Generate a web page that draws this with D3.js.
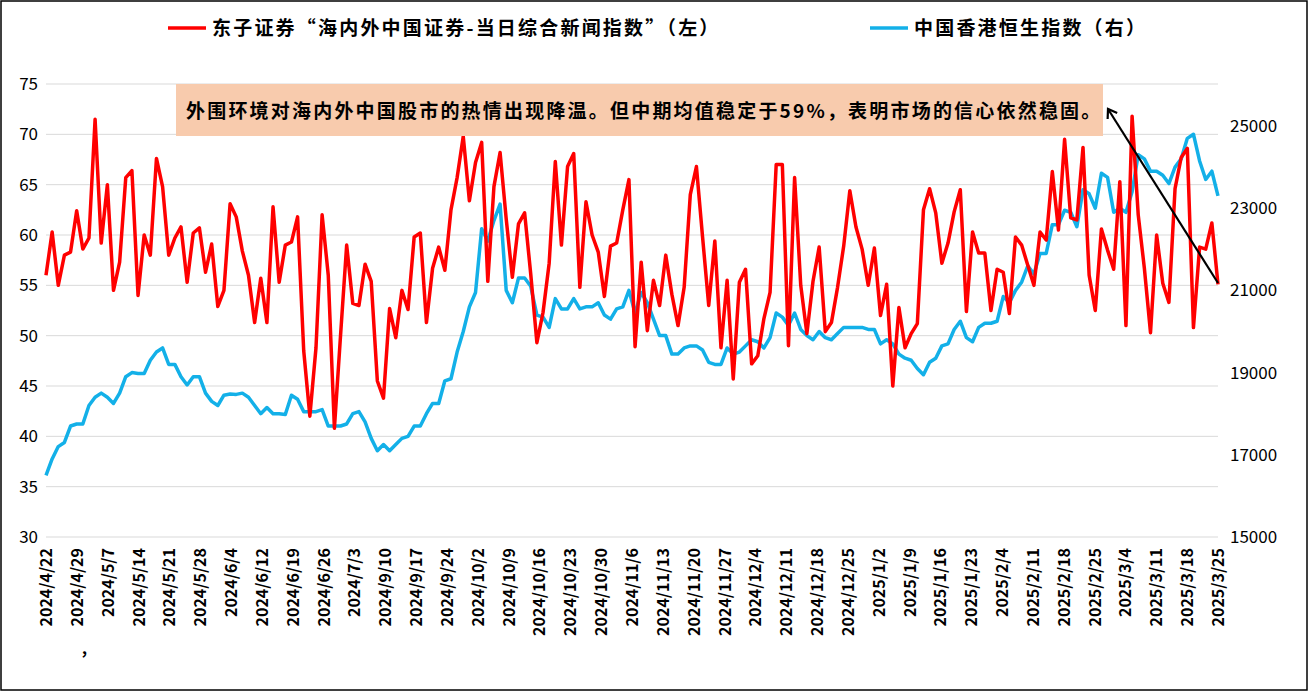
<!DOCTYPE html>
<html><head><meta charset="utf-8">
<script src="https://cdn.jsdelivr.net/npm/d3@7"></script>
<style>body{margin:0;background:#fff}text{font-family:"Noto Sans CJK SC","DejaVu Sans",sans-serif}</style>
</head><body><svg id="canvas" width="1308" height="691"></svg>
<script>
let dateLabels=["2024/4/22","2024/4/29","2024/5/7","2024/5/14","2024/5/21","2024/5/28","2024/6/4","2024/6/12","2024/6/19","2024/6/26","2024/7/3","2024/9/10","2024/9/17","2024/9/24","2024/10/2","2024/10/9","2024/10/16","2024/10/23","2024/10/30","2024/11/6","2024/11/13","2024/11/20","2024/11/27","2024/12/4","2024/12/11","2024/12/18","2024/12/25","2025/1/2","2025/1/9","2025/1/16","2025/1/23","2025/2/4","2025/2/11","2025/2/18","2025/2/25","2025/3/4","2025/3/11","2025/3/18","2025/3/25"]
let newsIndex=[56,60.3,55,58,58.3,62.4,58.6,59.7,71.5,59.2,65,54.5,57.3,65.7,66.4,54,60,58,67.6,64.8,58,59.7,60.8,55.3,60.2,60.7,56.3,59.1,52.9,54.5,63.1,61.8,58.4,56,51.3,55.7,51.3,62.8,55.3,59,59.3,61.8,48.5,42,48.8,62,56,40.8,50,59,53.2,53,57.1,55.4,45.5,43.8,52.7,49.8,54.5,52.6,59.8,60.2,51.3,56.7,58.8,56.5,62.5,65.7,69.8,63.4,67.2,69.2,55.4,64.8,68.2,61.6,55.8,61.1,62.2,56.1,49.3,52.3,57.2,67.3,59,66.8,68.1,54.8,63.3,60,58.3,53.9,58.9,59.2,62.5,65.5,48.9,57.3,50.5,55.5,53,58,54.1,51,54.8,64,66.8,59.8,53,59.4,48.8,55.5,45.7,55.3,56.6,47.2,48,51.7,54.3,67,67,49,65.7,55,50.2,55.4,58.8,50.4,51.3,54.8,58.9,64.4,60.8,58.6,55,58.7,52,55.1,45,52.8,48.8,50.2,51.2,62.5,64.6,62.2,57.2,59.2,62.3,64.5,52.4,60.3,58.2,58.2,52.5,56.6,56.3,52.2,59.8,59,57,55,60.3,59.5,66.3,60.5,69.5,61.7,61.5,68.7,56,52.5,60.6,58.5,56.6,65.3,51,71.8,62,56.7,50.3,60,55.2,53.3,64.6,67.7,68.6,50.8,58.8,58.6,61.2,55.1]
let hsi=[16500,16900,17200,17300,17700,17750,17750,18200,18400,18500,18400,18250,18500,18900,19000,18980,18980,19300,19500,19600,19200,19200,18900,18700,18900,18900,18500,18300,18200,18450,18480,18470,18500,18400,18200,18000,18150,18000,18000,17980,18450,18350,18050,18050,18050,18100,17700,17700,17700,17750,18000,18050,17800,17400,17100,17250,17100,17250,17400,17450,17700,17700,18000,18250,18250,18800,18850,19500,20000,20600,20950,22500,22200,22700,23100,21000,20700,21300,21300,21100,20400,20350,20100,20800,20550,20550,20800,20550,20600,20600,20700,20400,20300,20550,20600,21000,20450,20950,20700,20300,19900,19900,19450,19450,19600,19650,19650,19550,19250,19200,19200,19600,19450,19500,19650,19800,19750,19600,19850,20450,20350,20150,20450,20050,19900,19800,20000,19850,19800,19950,20100,20100,20100,20100,20050,20050,19700,19800,19700,19450,19350,19300,19100,18950,19250,19350,19650,19700,20050,20250,19850,19750,20100,20200,20200,20250,20850,20700,21000,21200,21600,21400,21900,21900,22600,22600,22950,22900,22550,23450,23350,23000,23850,23750,22900,23000,22900,23400,24300,24200,23900,23900,23800,23600,24000,24200,24700,24800,24150,23700,23900,23300]
let leftTicks=[30,35,40,45,50,55,60,65,70,75]
let rightTicks=[15000,17000,19000,21000,23000,25000]
let note="外围环境对海内外中国股市的热情出现降温。但中期均值稳定于59%，表明市场的信心依然稳固。"

let canvas=d3.select('#canvas')
let x0=46,x1=1218
let yL=d3.scaleLinear().domain([30,75]).range([537,84])
let yR=d3.scaleLinear().domain([15000,25000]).range([537,126])
let xRed=d3.scaleLinear().domain([0,newsIndex.length-1]).range([x0,x1])
let xBlue=d3.scaleLinear().domain([0,hsi.length-1]).range([x0,x1])
let xLab=d3.scaleLinear().domain([0,dateLabels.length-1]).range([x0,x1])

canvas.append('rect').attr('x',1).attr('y',1).attr('width',1306).attr('height',689).attr('fill','#fff').attr('stroke','#000').attr('stroke-width',1.5)

// grid
canvas.append('g').selectAll('line').data(leftTicks).enter().append('line')
  .attr('x1',x0).attr('x2',x1).attr('y1',d=>yL(d)).attr('y2',d=>yL(d))
  .attr('stroke','#d9d9d9').attr('stroke-width',1)

canvas.append('g').attr('transform','translate('+(x0-8)+',0)')
  .call(d3.axisLeft(yL).tickValues(leftTicks).tickSize(0).tickPadding(0))
  .call(g=>g.select('.domain').remove())
  .selectAll('text').attr('font-size',17).attr('fill','#000').attr('font-family','Liberation Sans')
canvas.append('g').attr('transform','translate('+(x1+12)+',0)')
  .call(d3.axisRight(yR).tickValues(rightTicks).tickSize(0).tickPadding(0).tickFormat(d3.format('d')))
  .call(g=>g.select('.domain').remove())
  .selectAll('text').attr('font-size',17).attr('fill','#000').attr('font-family','Liberation Sans')

// x labels
canvas.append('g').selectAll('text').data(dateLabels).enter().append('text')
  .attr('transform',(d,i)=>'translate('+(xLab(i)+6)+',548) rotate(-90)')
  .attr('text-anchor','end').attr('font-size',16).attr('font-weight','bold')
  .attr('font-family','Liberation Sans').text(d=>d)
canvas.append('text').attr('x',80).attr('y',655).attr('font-size',16).attr('font-weight','bold').text('，')

let lineR=d3.line().x((d,i)=>xRed(i)).y(d=>yL(d))
let lineB=d3.line().x((d,i)=>xBlue(i)).y(d=>yR(d))
canvas.append('path').datum(hsi).attr('d',lineB).attr('fill','none').attr('stroke','#13B0E8').attr('stroke-width',3.5).attr('stroke-linejoin','round')
canvas.append('path').datum(newsIndex).attr('d',lineR).attr('fill','none').attr('stroke','#FF0000').attr('stroke-width',3.5).attr('stroke-linejoin','round')

// legend
let leg=[{t:'东子证券“海内外中国证券-当日综合新闻指数”（左）',c:'#FF0000',x:168},{t:'中国香港恒生指数（右）',c:'#13B0E8',x:870}]
let lg=canvas.append('g').selectAll('g').data(leg).enter().append('g')
lg.append('line').attr('x1',d=>d.x).attr('x2',d=>d.x+38).attr('y1',28).attr('y2',28).attr('stroke',d=>d.c).attr('stroke-width',3.5)
lg.append('text').attr('x',d=>d.x+44).attr('y',35).attr('font-size',19).attr('font-weight','bold').attr('letter-spacing',2.2).text(d=>d.t)

// annotation
canvas.append('rect').attr('x',176).attr('y',84).attr('width',927).attr('height',52).attr('fill','#F8CBAD')
canvas.append('text').attr('x',186).attr('y',118).attr('font-size',19).attr('font-weight','bold').attr('letter-spacing',2.2).text(note)
let ax=1108,ay=109,bx=1218,by=283
let ang=Math.atan2(by-ay,bx-ax)
canvas.append('line').attr('x1',bx).attr('y1',by).attr('x2',ax).attr('y2',ay).attr('stroke','#000').attr('stroke-width',2.2)
let h=10
canvas.append('path').attr('d','M'+(ax+h*Math.cos(ang-0.6))+','+(ay+h*Math.sin(ang-0.6))+'L'+ax+','+ay+'L'+(ax+h*Math.cos(ang+0.6))+','+(ay+h*Math.sin(ang+0.6)))
  .attr('fill','none').attr('stroke','#000').attr('stroke-width',2.2)
</script></body></html>
